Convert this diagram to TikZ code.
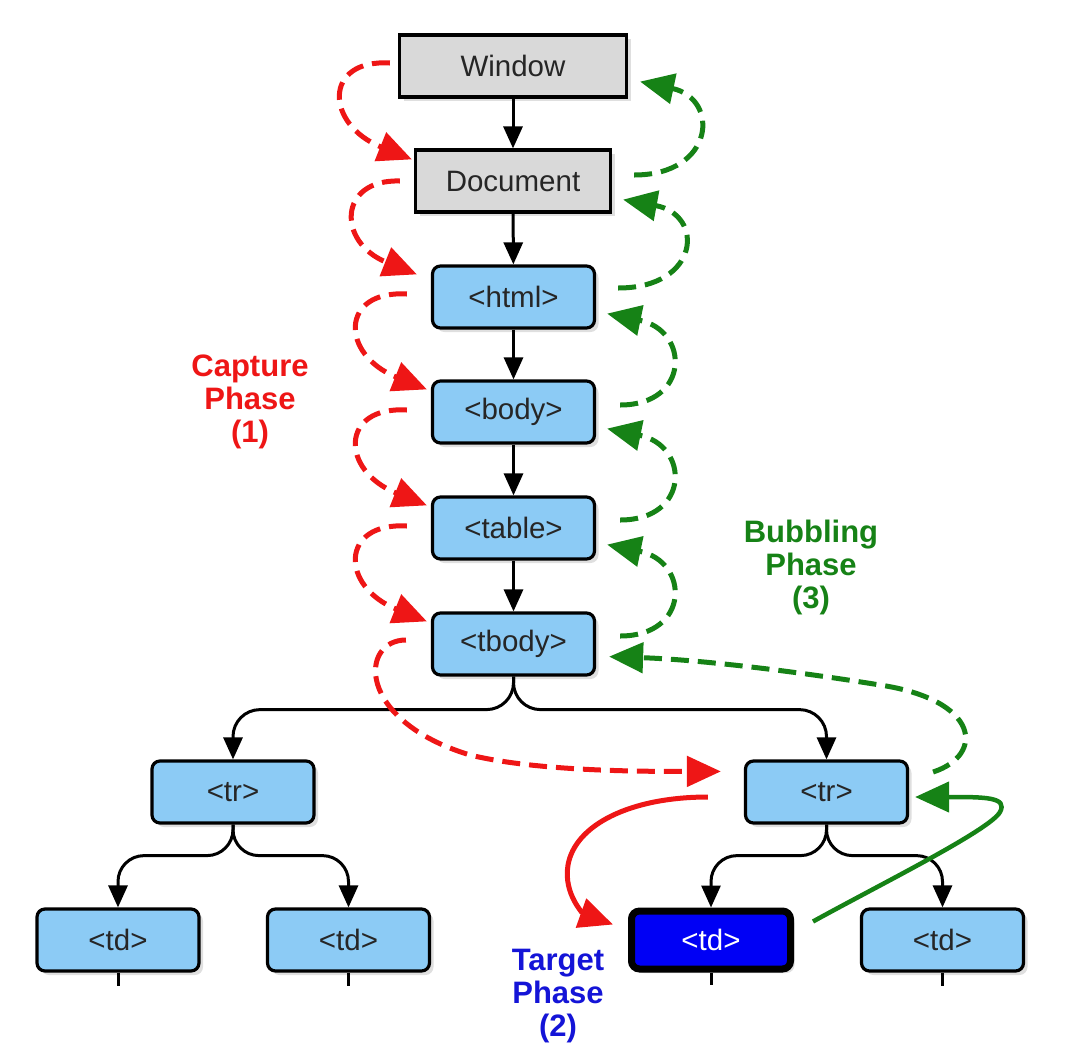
\documentclass[tikz,border=0pt]{standalone}
\usepackage{fontspec}
\setmainfont{Liberation Sans}
\usetikzlibrary{arrows.meta,shadows,calc}
\definecolor{boxgray}{RGB}{217,217,217}
\definecolor{boxblue}{RGB}{140,203,245}
\definecolor{capred}{RGB}{238,22,22}
\definecolor{bubgreen}{RGB}{22,130,22}
\definecolor{tgtblue}{RGB}{0,0,245}
\definecolor{lblblue}{RGB}{20,20,215}
\begin{document}
\begin{tikzpicture}[x=1pt,y=-1pt,
  box/.style={draw=black, line width=3.2pt, inner sep=0pt, minimum height=62pt,
    font=\fontsize{29.5}{31}\selectfont, text=black!85,
    drop shadow={shadow xshift=4pt, shadow yshift=-4pt, opacity=0.25}},
  graybox/.style={box, fill=boxgray},
  bluebox/.style={box, fill=boxblue, rounded corners=8pt, minimum width=162pt},
  targetbox/.style={bluebox, fill=tgtblue, line width=7pt, text=white, minimum width=159pt, minimum height=58pt},
  tree/.style={line width=3pt, draw=black, -{Triangle[length=22pt,width=19pt]}},
  stub/.style={line width=3pt, draw=black},
  capline/.style={line width=5pt, draw=capred, dash pattern=on 18pt off 9pt, -{Triangle[length=34pt,width=30pt]}},
  bubline/.style={line width=5pt, draw=bubgreen, dash pattern=on 18pt off 9pt, -{Triangle[length=34pt,width=30pt]}},
  tgtred/.style={line width=5pt, draw=capred, -{Triangle[length=34pt,width=30pt]}},
  tgtgreen/.style={line width=4.5pt, draw=bubgreen, -{Triangle[length=34pt,width=30pt]}},
  phase/.style={font=\fontsize{31}{33}\selectfont\bfseries, align=center, inner sep=0pt}
]
\useasboundingbox (0,0) rectangle (1089,1045);

% nodes
\node[graybox, minimum width=227pt] (win) at (513,66) {Window};
\node[graybox, minimum width=195pt] (doc) at (513,181) {Document};
\node[bluebox] (html) at (513.5,297) {<html>};
\node[bluebox] (body) at (513.5,412) {<body>};
\node[bluebox] (table) at (513.5,528) {<table>};
\node[bluebox] (tbody) at (513.5,644) {<tbody>};
\node[bluebox] (trL) at (233,792) {<tr>};
\node[bluebox] (trR) at (826.5,792) {<tr>};
\node[bluebox] (td1) at (118,940) {<td>};
\node[bluebox] (td2) at (348.5,940) {<td>};
\node[targetbox] (tdT) at (711,940) {<td>};
\node[bluebox] (td4) at (942.5,940) {<td>};

% labels
\node[phase, text=capred] (caplbl) at (250,402) {Capture\\Phase\\(1)};
\node[phase, text=bubgreen] (bublbl) at (811,567) {Bubbling\\Phase\\(3)};
\node[phase, text=lblblue] (tgtlbl) at (558,996) {Target\\Phase\\(2)};

% tree connectors
\draw[tree] (win) -- (doc);
\draw[tree] (doc) -- (html);
\draw[tree] (html) -- (body);
\draw[tree] (body) -- (table);
\draw[tree] (table) -- (tbody);
\draw[tree, rounded corners=27pt] (tbody.south) -- ++(0,33) -| (trL.north);
\draw[tree, rounded corners=27pt] (tbody.south) -- ++(0,33) -| (trR.north);
\draw[tree, rounded corners=26pt] (trL.south) -- ++(0,31) -| (td1.north);
\draw[tree, rounded corners=26pt] (trL.south) -- ++(0,31) -| (td2.north);
\draw[tree, rounded corners=26pt] (trR.south) -- ++(0,31) -| (tdT.north);
\draw[tree, rounded corners=26pt] (trR.south) -- ++(0,31) -| (td4.north);

% stubs below the cells
\coordinate (s1) at ([yshift=-13pt]td1.south);
\coordinate (s2) at ([yshift=-13pt]td2.south);
\coordinate (s3) at ([yshift=-12pt]tdT.south);
\coordinate (s4) at ([yshift=-13pt]td4.south);
\draw[stub] (td1.south) -- (s1);
\draw[stub] (td2.south) -- (s2);
\draw[stub] (tdT.south) -- (s3);
\draw[stub] (td4.south) -- (s4);

% capture phase (red dashed)
\draw[capline] ([shift={(-8,-3)}]win.west) .. controls +(-67,-4) and +(-87,-35) .. ([shift={(-2,11)}]doc.north west);
\draw[capline] ([shift={(-14,0)}]doc.west) .. controls +(-62,-2) and +(-80,-32) .. ([shift={(-14,10)}]html.north west);
\draw[capline] ([shift={(-24,-3)}]html.west) .. controls +(-67,-4) and +(-87,-35) .. ([shift={(-4,10)}]body.north west);
\draw[capline] ([shift={(-24,-2)}]body.west) .. controls +(-67,-4) and +(-87,-35) .. ([shift={(-4,10)}]table.north west);
\draw[capline] ([shift={(-24,-2)}]table.west) .. controls +(-67,-4) and +(-87,-35) .. ([shift={(-4,10)}]tbody.north west);
\draw[capline] ([shift={(-25,-4)}]tbody.west) .. controls +(-46,0) and +(-115,-35) .. (470,755) .. controls +(70,17) and +(-71,0) .. ([shift={(-23,12)}]trR.north west);

% bubbling phase (green dashed)
\draw[bubline] ([shift={(22,-6)}]doc.east) .. controls +(81,0) and +(80,17) .. ([shift={(12,-17)}]win.south east);
\draw[bubline] ([shift={(22,-9)}]html.east) .. controls +(82,0) and +(82,15) .. ([shift={(11,-14)}]doc.south east);
\draw[bubline] ([shift={(24,-7)}]body.east) .. controls +(70,0) and +(83,17) .. ([shift={(11,-16)}]html.south east);
\draw[bubline] ([shift={(24,-8)}]table.east) .. controls +(70,0) and +(83,17) .. ([shift={(11,-16)}]body.south east);
\draw[bubline] ([shift={(24,-8)}]tbody.east) .. controls +(70,0) and +(83,17) .. ([shift={(11,-16)}]table.south east);
\draw[bubline] ([shift={(24,-20)}]trR.east) .. controls +(52,-17) and +(100,15) .. (880,685) .. controls +(-80,-13) and +(91,3) .. ([shift={(13,-20)}]tbody.south east);

% target phase (solid)
\draw[tgtred] ([shift={(-36,5)}]trR.west) .. controls +(-78,0) and +(7,-40) .. (568,865) .. controls +(-5,30) and +(-28,-10) .. ([shift={(-15,17)}]tdT.north west);
\draw[tgtgreen] ([shift={(19,14)}]tdT.north east) .. controls +(67,-37) and +(-10,18) .. (1000,812) .. controls +(8,-15) and +(70,0) .. ([shift={(6,5)}]trR.east);
\end{tikzpicture}
\end{document}
